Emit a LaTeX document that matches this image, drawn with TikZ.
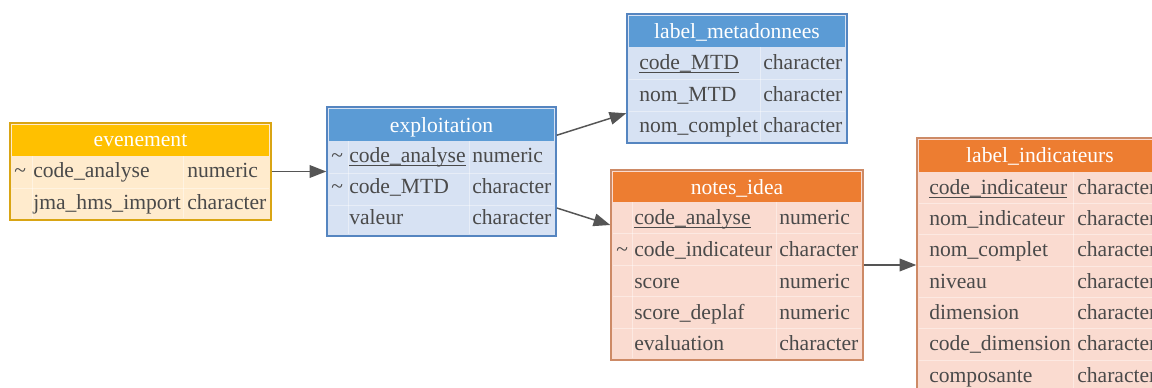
\documentclass[tikz,border=0pt]{standalone}
\usepackage{fontspec}
\setmainfont{Liberation Serif}
\usetikzlibrary{fit,arrows.meta}
\definecolor{txt}{HTML}{4A4A4A}
\definecolor{goldH}{HTML}{FFC000}
\definecolor{goldB}{HTML}{FFEBCD}
\definecolor{goldL}{HTML}{D9A514}
\definecolor{blueH}{HTML}{5B9BD5}
\definecolor{blueB}{HTML}{D7E2F3}
\definecolor{blueL}{HTML}{5585C0}
\definecolor{orH}{HTML}{ED7D31}
\definecolor{orB}{HTML}{FADBD0}
\definecolor{orL}{HTML}{CD8A66}
\definecolor{edgec}{HTML}{555555}
\newcommand\fsz{\fontsize{16.2}{19}\selectfont}
\newcommand\keyf[1]{\underline{\smash{#1}}}
\begin{document}
\begin{tikzpicture}[x=0.75pt,y=-0.75pt,
  tbl/.style={inner sep=0pt, line width=1.1pt},
  fld/.style={anchor=base west, inner sep=0pt, text=txt, font=\rmfamily\fsz},
  htxt/.style={anchor=base, inner sep=0pt, text=white, font=\rmfamily\fsz},
  sep/.style={white, line width=0.7pt, opacity=0.4},
  conn/.style={draw=edgec, line width=1.1pt, -{Triangle[length=12.5pt,width=9.5pt]}}]
\useasboundingbox (0,0) rectangle (1152,388);
\fill[white] (0,0) rectangle (1152,388);
\clip (0,0) rectangle (1152,388);

% ---------- evenement
\node[tbl, fit={(10,123) (271,220)}, fill=goldB, draw=goldL] (ev) {};
\fill[goldH] (12,125) rectangle (269,156);
\draw[sep] (12,188) -- (269,188);
\draw[sep] (32,156) -- (32,218) (183,156) -- (183,218);
\node[htxt] (evh) at (140.5,147) {evenement};
\node[fld] (ev1k) at (14,178) {\textasciitilde};
\node[fld] (ev1n) at (33,178) {code\_analyse};
\node[fld] (ev1t) at (187,178) {numeric};
\node[fld] (ev2n) at (33,210) {jma\_hms\_import};
\node[fld] (ev2t) at (187,210) {character};

% ---------- exploitation
\node[tbl, fit={(327,107) (556,236)}, fill=blueB, draw=blueL] (ex) {};
\fill[blueH] (329,109) rectangle (554,141);
\draw[sep] (329,173) -- (554,173) (329,205) -- (554,205);
\draw[sep] (348,141) -- (348,234) (469,141) -- (469,234);
\node[htxt] (exh) at (441.5,133) {exploitation};
\node[fld] (ex1k) at (331,163) {\textasciitilde};
\node[fld] (ex1n) at (349,163) {\keyf{code\_analyse}};
\node[fld] (ex1t) at (472,163) {numeric};
\node[fld] (ex2k) at (331,194) {\textasciitilde};
\node[fld] (ex2n) at (349,194) {code\_MTD};
\node[fld] (ex2t) at (472,194) {character};
\node[fld] (ex3n) at (349,225) {valeur};
\node[fld] (ex3t) at (472,225) {character};

% ---------- label_metadonnees
\node[tbl, fit={(627,14) (847,143)}, fill=blueB, draw=blueL] (md) {};
\fill[blueH] (629,16) rectangle (845,47);
\draw[sep] (629,79) -- (845,79) (629,111) -- (845,111);
\draw[sep] (760,47) -- (760,141);
\node[htxt] (mdh) at (737,39) {label\_metadonnees};
\node[fld] (md1n) at (639,70) {\keyf{code\_MTD}};
\node[fld] (md1t) at (763,70) {character};
\node[fld] (md2n) at (639,102) {nom\_MTD};
\node[fld] (md2t) at (763,102) {character};
\node[fld] (md3n) at (639,133) {nom\_complet};
\node[fld] (md3t) at (763,133) {character};

% ---------- notes_idea
\node[tbl, fit={(611,170) (863,360)}, fill=orB, draw=orL] (ni) {};
\fill[orH] (613,172) rectangle (861,202);
\draw[sep] (613,233) -- (861,233) (613,265) -- (861,265)
           (613,296) -- (861,296) (613,328) -- (861,328);
\draw[sep] (632,202) -- (632,358) (776,202) -- (776,358);
\node[htxt] (nih) at (737,195) {notes\_idea};
\node[fld] (ni1n) at (634,225) {\keyf{code\_analyse}};
\node[fld] (ni1t) at (779,225) {numeric};
\node[fld] (ni2k) at (616,257) {\textasciitilde};
\node[fld] (ni2n) at (634,257) {code\_indicateur};
\node[fld] (ni2t) at (779,257) {character};
\node[fld] (ni3n) at (634,288) {score};
\node[fld] (ni3t) at (779,288) {numeric};
\node[fld] (ni4n) at (634,319) {score\_deplaf};
\node[fld] (ni4t) at (779,319) {numeric};
\node[fld] (ni5n) at (634,350) {evaluation};
\node[fld] (ni5t) at (779,350) {character};

% ---------- label_indicateurs
\node[tbl, fit={(917,138) (1163,392)}, fill=orB, draw=orL] (li) {};
\fill[orH] (919,140) rectangle (1161,172);
\draw[sep] (919,203) -- (1161,203) (919,234) -- (1161,234)
           (919,266) -- (1161,266) (919,297) -- (1161,297)
           (919,328) -- (1161,328) (919,360) -- (1161,360);
\draw[sep] (1073,172) -- (1073,390);
\node[htxt] (lih) at (1040,163) {label\_indicateurs};
\node[fld] (li1n) at (929,195) {\keyf{code\_indicateur}};
\node[fld] (li1t) at (1077,195) {character};
\node[fld] (li2n) at (929,226) {nom\_indicateur};
\node[fld] (li2t) at (1077,226) {character};
\node[fld] (li3n) at (929,257) {nom\_complet};
\node[fld] (li3t) at (1077,257) {character};
\node[fld] (li4n) at (929,288) {niveau};
\node[fld] (li4t) at (1077,288) {character};
\node[fld] (li5n) at (929,319) {dimension};
\node[fld] (li5t) at (1077,319) {character};
\node[fld] (li6n) at (929,350) {code\_dimension};
\node[fld] (li6t) at (1077,350) {character};
\node[fld] (li7n) at (929,382) {composante};
\node[fld] (li7t) at (1077,382) {character};

% ---------- connectors (centre to centre, clipped at the borders)
\draw[conn] (ev) -- (ex);
\draw[conn] (ex) -- (md);
\draw[conn] (ex) -- (ni);
\draw[conn] (ni) -- (li);
\end{tikzpicture}
\end{document}
